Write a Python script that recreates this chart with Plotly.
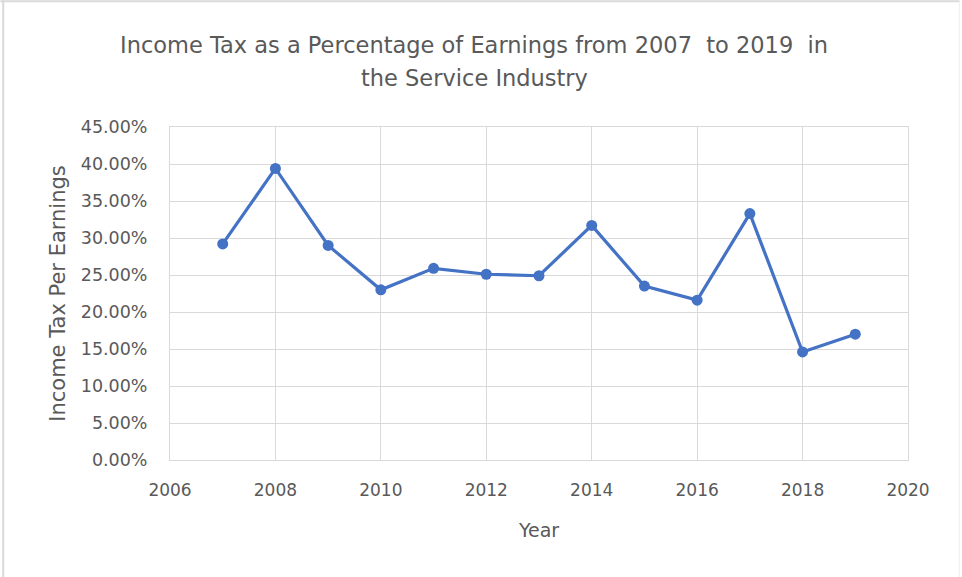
import plotly.graph_objects as go

years = [2007, 2008, 2009, 2010, 2011, 2012, 2013, 2014, 2015, 2016, 2017, 2018, 2019]
tax_pct = [0.292, 0.394, 0.290, 0.230, 0.259, 0.251, 0.249, 0.317, 0.235, 0.216, 0.333, 0.146, 0.170]

x_ticks = [2006, 2008, 2010, 2012, 2014, 2016, 2018, 2020]
y_ticks = [0.0, 0.05, 0.10, 0.15, 0.20, 0.25, 0.30, 0.35, 0.40, 0.45]

title_lines = ["Income Tax as a Percentage of Earnings from 2007  to 2019  in",
               "the Service Industry"]

FONT = "DejaVu Sans"
TEXT = "#595959"
GRID = "#d9d9d9"
BLUE = "#4472C4"

fig = go.Figure()
fig.add_trace(go.Scatter(
    x=years, y=tax_pct, mode="lines+markers",
    line=dict(color=BLUE, width=3.2),
    marker=dict(color=BLUE, size=11),
    showlegend=False,
))

# two-line chart title, each line placed on its own
title_annots = [
    dict(text=t, xref="paper", yref="paper", x=0.4126, y=yy,
         xanchor="center", yanchor="middle", showarrow=False,
         font=dict(family=FONT, size=22.5, color=TEXT))
    for t, yy in zip(title_lines, [1.2462, 1.1471])
]

fig.update_layout(
    width=962, height=577,
    margin=dict(l=170, r=54, t=127, b=117),
    paper_bgcolor="white", plot_bgcolor="white",
    font=dict(family=FONT, color=TEXT, size=17),
    annotations=title_annots,
    shapes=[
        dict(type="line", xref="paper", yref="paper", x0=-0.226, x1=-0.226, y0=1.38, y1=-0.4,
             line=dict(color=GRID, width=2)),
        dict(type="line", xref="paper", yref="paper", x0=-0.23, x1=1.07, y0=1.378, y1=1.378,
             line=dict(color=GRID, width=2)),
        dict(type="line", xref="paper", yref="paper", x0=1.0695, x1=1.0695, y0=1.38, y1=-0.4,
             line=dict(color="#eeeeee", width=1)),
    ],
)

fig.update_xaxes(
    range=[2006, 2020], tickvals=x_ticks, ticktext=[str(v) for v in x_ticks],
    showgrid=True, gridcolor=GRID, gridwidth=1,
    showline=True, linecolor=GRID, linewidth=1, mirror=True,
    zeroline=False, ticks="", ticklabelstandoff=15,
    tickfont=dict(family=FONT, size=17, color=TEXT),
    title=dict(text="Year", font=dict(family=FONT, size=19, color=TEXT), standoff=24),
)
fig.update_yaxes(
    range=[0, 0.45], tickvals=y_ticks, tickformat=".2%",
    showgrid=True, gridcolor=GRID, gridwidth=1,
    showline=True, linecolor=GRID, linewidth=1, mirror=True,
    zeroline=False, ticks="", ticklabelstandoff=18,
    tickfont=dict(family=FONT, size=17.5, color=TEXT),
    title=dict(text="Income Tax Per Earnings", font=dict(family=FONT, size=21, color=TEXT), standoff=9),
)

fig.write_html("out.html")
